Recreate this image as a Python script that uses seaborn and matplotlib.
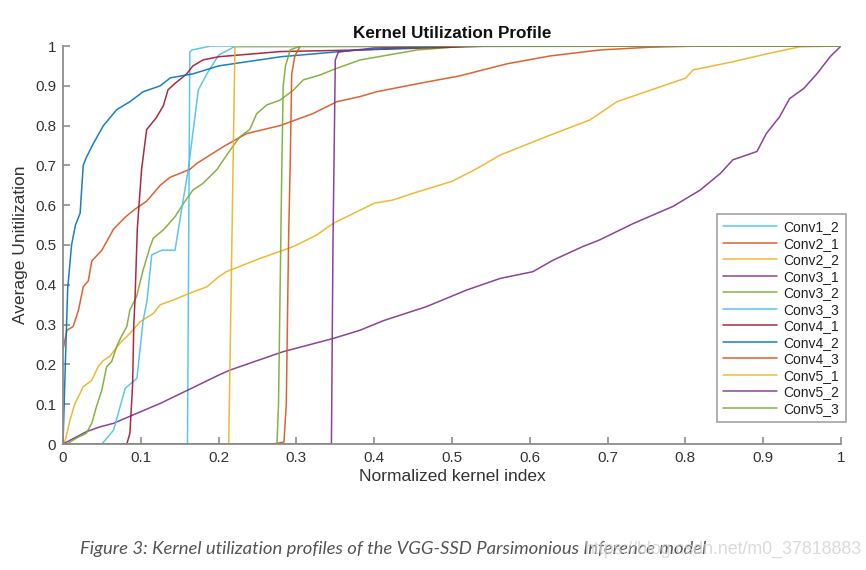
import numpy as np
import pandas as pd
import matplotlib
matplotlib.use("Agg")
import matplotlib.pyplot as plt
import seaborn as sns

# ---------------- data ----------------
series_names = ["Conv1_2", "Conv2_1", "Conv2_2", "Conv3_1", "Conv3_2", "Conv3_3",
                "Conv4_1", "Conv4_2", "Conv4_3", "Conv5_1", "Conv5_2", "Conv5_3"]

conv1_2_x = [0, 0.160, 0.163, 0.166, 0.190, 1.0]
conv1_2_y = [0, 0, 0.985, 0.99, 1.0, 1.0]

conv2_1_x = [0, 0.005, 0.013, 0.020, 0.026, 0.0325, 0.037, 0.050, 0.065, 0.080, 0.0925,
             0.1075, 0.125, 0.1375, 0.163, 0.172, 0.206, 0.236, 0.279, 0.321, 0.352,
             0.382, 0.403, 0.455, 0.51, 0.57, 0.626, 0.69, 0.755, 0.82, 1.0]
conv2_1_y = [0.236, 0.286, 0.295, 0.337, 0.395, 0.41, 0.46, 0.487, 0.54, 0.57, 0.59,
             0.61, 0.65, 0.67, 0.69, 0.705, 0.747, 0.78, 0.80, 0.83, 0.86,
             0.873, 0.885, 0.905, 0.925, 0.955, 0.975, 0.99, 0.997, 1.0, 1.0]

conv2_2_x = [0, 0.003, 0.009, 0.015, 0.026, 0.037, 0.045, 0.052, 0.060, 0.073, 0.086,
             0.099, 0.116, 0.125, 0.142, 0.163, 0.185, 0.20, 0.21, 0.253, 0.296, 0.326,
             0.347, 0.40, 0.424, 0.45, 0.50, 0.53, 0.562, 0.626, 0.677, 0.712, 0.755,
             0.80, 0.81, 0.86, 0.904, 0.947, 1.0]
conv2_2_y = [0, 0.01, 0.06, 0.10, 0.144, 0.16, 0.194, 0.21, 0.22, 0.253, 0.278,
             0.307, 0.328, 0.35, 0.362, 0.379, 0.395, 0.42, 0.433, 0.466, 0.496, 0.525,
             0.554, 0.605, 0.613, 0.63, 0.66, 0.69, 0.726, 0.776, 0.814, 0.86, 0.889,
             0.919, 0.94, 0.96, 0.98, 0.998, 1.0]

conv3_1_x = [0, 0.0175, 0.030, 0.0475, 0.065, 0.090, 0.125, 0.161, 0.20, 0.215, 0.283,
             0.347, 0.382, 0.412, 0.467, 0.519, 0.562, 0.604, 0.63, 0.668, 0.69, 0.733,
             0.784, 0.819, 0.845, 0.861, 0.892, 0.904, 0.921, 0.934, 0.952, 0.969,
             0.986, 1.0]
conv3_1_y = [0, 0.018, 0.031, 0.043, 0.052, 0.073, 0.102, 0.136, 0.173, 0.186, 0.232,
             0.265, 0.286, 0.31, 0.345, 0.387, 0.416, 0.433, 0.462, 0.496, 0.513, 0.554,
             0.597, 0.638, 0.68, 0.714, 0.735, 0.78, 0.822, 0.868, 0.893, 0.93,
             0.973, 1.0]

conv3_2_x = [0, 0.005, 0.0175, 0.030, 0.037, 0.043, 0.050, 0.056, 0.0625, 0.069, 0.075,
             0.082, 0.086, 0.0945, 0.103, 0.112, 0.116, 0.129, 0.144, 0.155, 0.167,
             0.180, 0.198, 0.215, 0.2275, 0.24, 0.249, 0.262, 0.279, 0.296, 0.309,
             0.33, 0.352, 0.382, 0.455, 0.52, 1.0]
conv3_2_y = [0, 0, 0.015, 0.027, 0.052, 0.094, 0.136, 0.194, 0.207, 0.245, 0.27,
             0.295, 0.337, 0.37, 0.437, 0.496, 0.517, 0.538, 0.571, 0.605, 0.638,
             0.655, 0.69, 0.739, 0.772, 0.79, 0.83, 0.852, 0.864, 0.889, 0.915,
             0.927, 0.944, 0.965, 0.99, 1.0, 1.0]

conv3_3_x = [0, 0.050, 0.065, 0.080, 0.095, 0.103, 0.108, 0.114, 0.127, 0.144, 0.150,
             0.161, 0.174, 0.185, 0.200, 0.220, 1.0]
conv3_3_y = [0, 0, 0.035, 0.14, 0.165, 0.31, 0.36, 0.475, 0.487, 0.487, 0.56,
             0.69, 0.89, 0.93, 0.977, 0.998, 1.0]

conv4_1_x = [0, 0.082, 0.086, 0.0895, 0.091, 0.0925, 0.0955, 0.101, 0.1075, 0.120, 0.129,
             0.135, 0.144, 0.159, 0.167, 0.180, 0.20, 0.279, 0.38, 0.55, 1.0]
conv4_1_y = [0, 0, 0.027, 0.15, 0.30, 0.36, 0.54, 0.69, 0.79, 0.82, 0.85,
             0.89, 0.906, 0.93, 0.95, 0.965, 0.973, 0.986, 0.99, 1.0, 1.0]

conv4_2_x = [0, 0.003, 0.006, 0.011, 0.016, 0.022, 0.026, 0.030, 0.039, 0.052, 0.069,
             0.086, 0.103, 0.125, 0.138, 0.167, 0.20, 0.28, 0.38, 0.50, 1.0]
conv4_2_y = [0, 0.20, 0.39, 0.50, 0.55, 0.58, 0.70, 0.72, 0.755, 0.80, 0.84,
             0.86, 0.885, 0.90, 0.92, 0.93, 0.95, 0.973, 0.99, 1.0, 1.0]

conv4_3_x = [0, 0.270, 0.284, 0.287, 0.290, 0.292, 0.294, 0.298, 0.305, 1.0]
conv4_3_y = [0, 0, 0.005, 0.10, 0.52, 0.70, 0.93, 0.975, 1.0, 1.0]

conv5_1_x = [0, 0.213, 0.221, 1.0]
conv5_1_y = [0, 0, 1.0, 1.0]

conv5_2_x = [0, 0.345, 0.347, 0.350, 0.354, 0.40, 0.50, 1.0]
conv5_2_y = [0, 0, 0.50, 0.965, 0.985, 0.995, 1.0, 1.0]

conv5_3_x = [0, 0.275, 0.277, 0.281, 0.283, 0.286, 0.292, 0.305, 1.0]
conv5_3_y = [0, 0, 0.10, 0.66, 0.90, 0.95, 0.99, 1.0, 1.0]

series_x = [conv1_2_x, conv2_1_x, conv2_2_x, conv3_1_x, conv3_2_x, conv3_3_x,
            conv4_1_x, conv4_2_x, conv4_3_x, conv5_1_x, conv5_2_x, conv5_3_x]
series_y = [conv1_2_y, conv2_1_y, conv2_2_y, conv3_1_y, conv3_2_y, conv3_3_y,
            conv4_1_y, conv4_2_y, conv4_3_y, conv5_1_y, conv5_2_y, conv5_3_y]

series_colors = ["#4DBEEE", "#D95319", "#EDB120", "#7E2F8E", "#77AC30", "#4DBEEE",
                 "#A2142F", "#0072BD", "#D95319", "#EDB120", "#7E2F8E", "#77AC30"]

x_ticks = [0, 0.1, 0.2, 0.3, 0.4, 0.5, 0.6, 0.7, 0.8, 0.9, 1]
y_ticks = [0, 0.1, 0.2, 0.3, 0.4, 0.5, 0.6, 0.7, 0.8, 0.9, 1]

title_text = "Kernel Utilization Profile"
x_label = "Normalized kernel index"
y_label = "Average Unitilization"
caption = "Figure 3: Kernel utilization profiles of the VGG-SSD Parsimonious Inference model"
watermark = "https://blog.csdn.net/m0_37818883"

# ---------------- build long-form table ----------------
rows = []
for name, xs, ys in zip(series_names, series_x, series_y):
    for i, (xv, yv) in enumerate(zip(xs, ys)):
        rows.append({"series": name, "order": i, "x": xv, "y": yv})
df = pd.DataFrame(rows)

# ---------------- plotting ----------------
sns.set_style("ticks")
plt.rcParams["font.family"] = ["Liberation Sans", "DejaVu Sans"]

fig = plt.figure(figsize=(8.66, 5.70), dpi=100)
ax = fig.add_axes([63 / 866, 1 - 444 / 570, (841 - 63) / 866, (444 - 46) / 570])

palette = dict(zip(series_names, series_colors))
sns.lineplot(data=df, x="x", y="y", hue="series", hue_order=series_names,
             palette=palette, estimator=None, sort=False, units="series",
             linewidth=1.1, alpha=0.9, ax=ax, legend=True)

ax.set_xlim(0, 1)
ax.set_ylim(0, 1)
ax.set_xticks(x_ticks)
ax.set_yticks(y_ticks)
ax.set_xticklabels([f"{v:g}" for v in x_ticks])
ax.set_yticklabels([f"{v:g}" for v in y_ticks])

axis_grey = "#8c8c8c"
text_col = "#333333"
for side in ["top", "right"]:
    ax.spines[side].set_visible(False)
for side in ["left", "bottom"]:
    ax.spines[side].set_color(axis_grey)
    ax.spines[side].set_linewidth(1.3)
ax.tick_params(direction="in", length=5, width=1.2, color=axis_grey,
               labelsize=11, labelcolor=text_col, pad=5)

ax.set_xlabel(x_label, fontsize=12.5, color=text_col, labelpad=3)
ax.set_ylabel(y_label, fontsize=12.5, color=text_col, labelpad=5)
ax.set_title(title_text, fontsize=12.3, fontweight="bold", color="#111111", pad=6)

handles, labels = ax.get_legend_handles_labels()
leg = ax.legend(handles, labels, loc="lower right", bbox_to_anchor=(1.006, 0.055),
                fontsize=10, frameon=True, fancybox=False, handlelength=3.9,
                handletextpad=0.45, labelspacing=0.18, borderpad=0.45, borderaxespad=0)
leg.get_frame().set_edgecolor("#8c8c8c")
leg.get_frame().set_linewidth(1.2)
for t in leg.get_texts():
    t.set_color("#222222")

fig.text(80 / 866, 1 - 549 / 570, caption, fontsize=13.3, style="italic",
         color="#555555", family=["Lato", "DejaVu Sans"], va="center", ha="left")
fig.text(862 / 866, 1 - 549 / 570, watermark, fontsize=12.8, color="#d4d4d4",
         va="center", ha="right", alpha=0.85)

fig.savefig("out.png", dpi=100)
